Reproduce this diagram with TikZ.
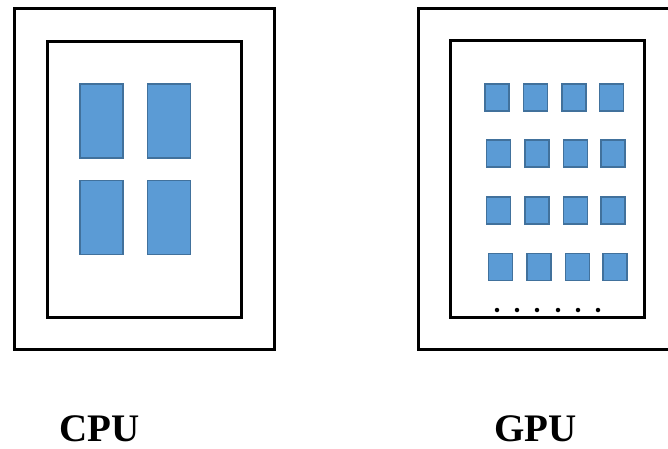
\documentclass[tikz,border=0pt]{standalone}
\usepackage{fontspec}
\setmainfont{Liberation Serif}
\usetikzlibrary{positioning}
\definecolor{coreblue} {RGB}{91,155,213}
\definecolor{coreedge} {RGB}{65,113,156}
\tikzset{
  outerbox/.style={draw=black,line width=3.3pt,minimum width=260pt,
                   minimum height=341pt,inner sep=0pt},
  innerbox/.style={draw=black,line width=3.3pt,minimum width=194pt,
                   minimum height=276pt,inner sep=0pt},
  cpucore/.style={draw=coreedge,fill=coreblue,line width=1.6pt,
                  minimum width=43pt,minimum height=74pt,inner sep=0pt},
  gpucore/.style={cpucore,minimum width=24pt,minimum height=27pt},
  dotmark/.style={circle,fill=black,minimum size=4.5pt,inner sep=0pt},
  chiplbl/.style={font=\fontsize{39}{40}\selectfont\bfseries,anchor=base,
                  inner sep=0pt},
}
\begin{document}
\begin{tikzpicture}[x=1pt,y=-1pt]
  \useasboundingbox (0,0) rectangle (668,448);

  % CPU
  \node[outerbox](cpuOuter) at (144.5,179) {};
  \node[innerbox](cpuInner) at (144.5,179.5) {};
  \node[cpucore](cpuCoreA) at (101.5,121) {};
  \node[cpucore](cpuCoreB) at (169,121) {};
  \node[cpucore](cpuCoreC) at (101.5,217.5) {};
  \node[cpucore](cpuCoreD) at (169,217.5) {};
  \node[chiplbl](cpuLbl) at (99.5,441) {CPU};

  % GPU
  \node[outerbox,minimum width=258pt](gpuOuter) at (547.5,179) {};
  \node[innerbox,minimum height=277pt](gpuInner) at (547.5,179) {};
  \foreach \y/\dx [count=\r] in {97.5/0,153.5/1.5,210.5/1.5,267/3.5}
    \foreach \x [count=\c] in {497,535.5,574,611.5}
      \node[gpucore](gpuCore-\r-\c) at (\x+\dx,\y) {};
  \foreach \x [count=\i] in {497,517,537,558,578,598}
    \node[dotmark](gpuDot\i) at (\x,310) {};
  \node[chiplbl](gpuLbl) at (535.5,441) {GPU};
\end{tikzpicture}
\end{document}
